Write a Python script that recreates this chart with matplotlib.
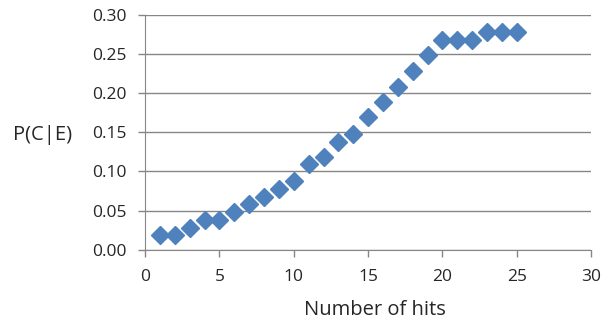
import matplotlib
matplotlib.use("Agg")
import matplotlib.pyplot as plt

hits = list(range(1, 26))
prob = [0.019, 0.019, 0.028, 0.038, 0.038, 0.048, 0.059, 0.068, 0.078, 0.088,
        0.109, 0.119, 0.138, 0.148, 0.169, 0.189, 0.208, 0.228, 0.249, 0.268,
        0.268, 0.268, 0.278, 0.278, 0.278]
x_ticks = [0, 5, 10, 15, 20, 25, 30]
y_ticks = [0.00, 0.05, 0.10, 0.15, 0.20, 0.25, 0.30]

plt.rcParams["font.family"] = ["Open Sans", "DejaVu Sans"]
cinza = "#868686"
texto = "#262626"

fig = plt.figure(figsize=(6.02, 3.25), dpi=100)
ax = fig.add_axes([0.241, 0.231, 0.741, 0.724])

ax.plot(hits, prob, linestyle="none", marker="D", markersize=9,
        color="#4F81BD", zorder=3)

ax.set_xlim(0, 30)
ax.set_ylim(0, 0.30)
ax.set_xticks(x_ticks)
ax.set_yticks(y_ticks)
ax.set_yticklabels([f"{v:.2f}" for v in y_ticks])
ax.grid(axis="y", color=cinza, linewidth=1)
ax.set_axisbelow(True)

for lado in ["top", "right"]:
    ax.spines[lado].set_visible(False)
for lado in ["left", "bottom"]:
    ax.spines[lado].set_color(cinza)
ax.tick_params(colors=cinza, labelcolor=texto, labelsize=12.5, length=5, width=1)
ax.tick_params(axis="x", pad=9)
ax.tick_params(axis="y", pad=8)

ax.set_xlabel("Number of hits", fontsize=14.5, color=texto)
ax.xaxis.set_label_coords(0.515, -0.255)
ax.xaxis.label.set_verticalalignment("center")
ax.set_ylabel("P(C|E)", fontsize=14.5, color=texto, rotation=0)
ax.yaxis.set_label_coords(-0.23, 0.49)
ax.yaxis.label.set_verticalalignment("center")

plt.savefig("out.png", dpi=100)
plt.close()
